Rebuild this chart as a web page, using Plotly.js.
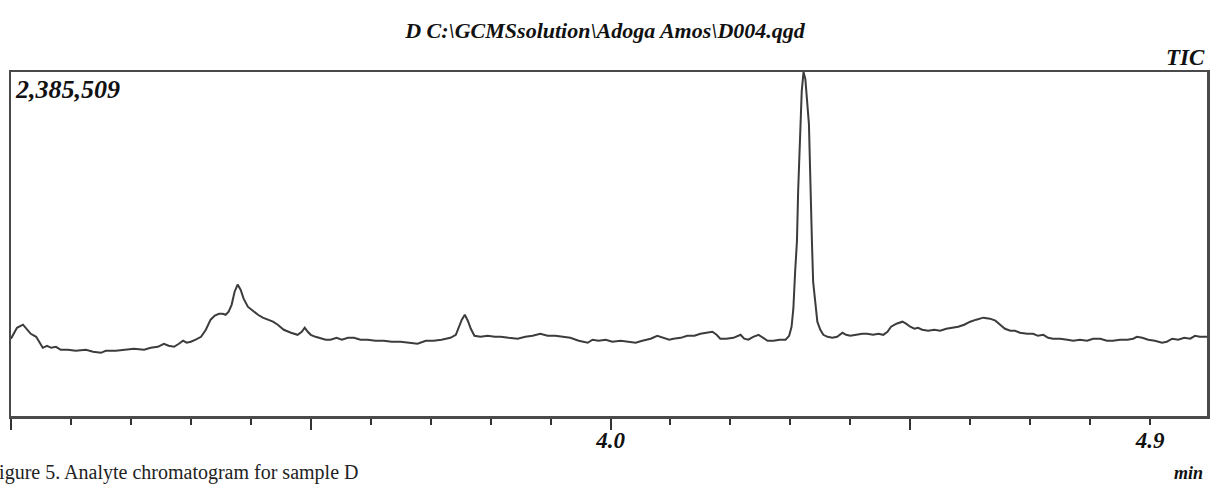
<!DOCTYPE html>
<html><head><meta charset="utf-8">
<script src="https://cdn.plot.ly/plotly-3.0.1.min.js"></script>
<style>html,body{margin:0;padding:0;background:#fff;}#chart{width:1210px;height:484px;}</style>
</head><body><div id="chart"></div>
<script>
const retentionTime = [3.000,3.010,3.020,3.027,3.033,3.042,3.045,3.053,3.060,3.067,3.075,3.083,3.095,3.108,3.125,3.137,3.150,3.158,3.175,3.192,
3.205,3.222,3.233,3.245,3.255,3.263,3.272,3.280,3.287,3.293,3.300,3.308,3.317,3.325,3.333,3.340,3.347,3.353,3.358,3.363,
3.368,3.373,3.378,3.383,3.388,3.395,3.403,3.412,3.420,3.428,3.437,3.445,3.455,3.467,3.478,3.485,3.490,3.495,3.500,3.508,
3.517,3.525,3.533,3.543,3.552,3.562,3.572,3.583,3.595,3.608,3.622,3.635,3.650,3.663,3.678,3.692,3.705,3.718,3.733,3.742,
3.747,3.752,3.757,3.762,3.767,3.773,3.783,3.795,3.807,3.817,3.830,3.845,3.858,3.870,3.883,3.895,3.908,3.920,3.933,3.947,
3.957,3.962,3.970,3.980,3.992,4.003,4.017,4.028,4.042,4.053,4.067,4.078,4.088,4.098,4.105,4.117,4.128,4.140,4.150,4.160,
4.170,4.177,4.183,4.193,4.205,4.217,4.223,4.230,4.238,4.247,4.255,4.262,4.272,4.282,4.292,4.298,4.302,4.305,4.308,4.311,
4.313,4.317,4.319,4.322,4.325,4.331,4.333,4.336,4.338,4.342,4.345,4.350,4.355,4.362,4.370,4.378,4.387,4.393,4.400,4.410,
4.420,4.428,4.438,4.447,4.455,4.462,4.468,4.477,4.487,4.493,4.500,4.507,4.513,4.520,4.530,4.540,4.550,4.560,4.570,4.580,
4.590,4.600,4.610,4.622,4.633,4.642,4.650,4.658,4.667,4.675,4.683,4.695,4.705,4.713,4.722,4.730,4.738,4.750,4.762,4.772,
4.783,4.795,4.805,4.817,4.828,4.838,4.850,4.862,4.872,4.878,4.887,4.897,4.908,4.920,4.928,4.937,4.947,4.957,4.967,4.975,
4.983,4.995];
const intensity = [536000,612000,633000,598000,570000,549000,529000,473000,487000,473000,480000,459000,459000,452000,459000,445000,438000,452000,452000,459000,
466000,459000,473000,480000,501000,487000,480000,501000,522000,508000,515000,529000,549000,598000,668000,696000,709000,709000,702000,723000,
771000,862000,911000,876000,814000,758000,730000,702000,682000,668000,654000,633000,598000,577000,563000,584000,612000,584000,563000,549000,
536000,529000,529000,542000,529000,542000,542000,529000,529000,522000,522000,515000,515000,508000,501000,522000,522000,529000,542000,563000,
612000,668000,702000,661000,605000,556000,549000,556000,549000,549000,542000,536000,549000,556000,570000,556000,556000,549000,542000,522000,
515000,508000,529000,522000,529000,515000,522000,515000,508000,522000,536000,556000,542000,529000,536000,542000,556000,556000,570000,577000,
584000,563000,536000,536000,542000,563000,536000,529000,549000,563000,542000,522000,522000,529000,529000,556000,619000,744000,1002000,1210000,
1558000,2024000,2253000,2385509,2337000,2024000,1627000,1210000,932000,744000,654000,598000,563000,549000,542000,549000,577000,563000,556000,563000,
570000,570000,563000,570000,563000,584000,619000,640000,654000,640000,619000,605000,612000,598000,591000,598000,591000,605000,612000,619000,
633000,654000,668000,682000,675000,661000,633000,605000,591000,591000,577000,570000,570000,556000,563000,542000,536000,536000,529000,522000,
529000,522000,536000,536000,522000,522000,529000,529000,536000,549000,542000,529000,522000,508000,515000,536000,529000,542000,536000,556000,
549000,549000];
const majorTickVals = [3.0, 3.5, 4.0, 4.5];
const labelTickVals = [4.0, 4.9];
const labelTickText = ['4.0', '4.9'];
const titleText = 'D C:\\GCMSsolution\\Adoga Amos\\D004.qgd';
const maxLabel = '2,385,509';
const traceLabel = 'TIC';
const unitLabel = 'min';
const captionText = 'Figure 5. Analyte chromatogram for sample D';

const serifBI = {family: '"Liberation Serif", "Times New Roman", serif', color: '#111', weight: 'bold', style: 'italic'};
const xRange = [3.0, 4.995];

const data = [{
  x: retentionTime, y: intensity, type: 'scatter', mode: 'lines',
  line: {color: '#3c3c3c', width: 2}, hoverinfo: 'skip', xaxis: 'x', yaxis: 'y'
}, {
  x: [4.0], y: [null], type: 'scatter', mode: 'lines', xaxis: 'x2', yaxis: 'y', showlegend: false, hoverinfo: 'skip'
}];

const layout = {
  width: 1210, height: 484,
  margin: {l: 11, r: 3, t: 72, b: 68},
  paper_bgcolor: '#fff', plot_bgcolor: '#fff',
  showlegend: false,
  title: {text: titleText, x: 0.5, xanchor: 'center', y: 0.938, yanchor: 'middle', yref: 'container',
          font: Object.assign({}, serifBI, {size: 22})},
  xaxis: {
    range: xRange, showgrid: false, zeroline: false,
    showline: true, mirror: true, linecolor: '#4a4a4a', linewidth: 2.5,
    tickmode: 'array', tickvals: majorTickVals, ticks: 'outside', ticklen: 11, tickwidth: 2, tickcolor: '#333',
    showticklabels: false,
    minor: {tick0: 3.0, dtick: 0.1, ticks: 'outside', ticklen: 6, tickwidth: 2, tickcolor: '#333', showgrid: false}
  },
  xaxis2: {
    overlaying: 'x', anchor: 'y', side: 'bottom', range: xRange,
    showgrid: false, zeroline: false, showline: false,
    tickmode: 'array', tickvals: labelTickVals, ticktext: labelTickText,
    ticks: 'outside', ticklen: 0, tickcolor: 'rgba(0,0,0,0)', ticklabelstandoff: 3,
    tickfont: Object.assign({}, serifBI, {size: 23})
  },
  yaxis: {
    range: [0, 2385509], showgrid: false, zeroline: false,
    showline: true, mirror: true, linecolor: '#4a4a4a', linewidth: 2.5,
    ticks: '', showticklabels: false
  },
  annotations: [
    {text: traceLabel, xref: 'paper', yref: 'paper', x: 1.0, y: 1.0407, xanchor: 'right', yanchor: 'middle',
     showarrow: false, font: Object.assign({}, serifBI, {size: 23})},
    {text: maxLabel, xref: 'paper', yref: 'paper', x: 0.0015, y: 0.95, xanchor: 'left', yanchor: 'middle',
     showarrow: false, font: Object.assign({}, serifBI, {size: 26})},
    {text: unitLabel, xref: 'paper', yref: 'paper', x: 0.998, y: -0.165, xanchor: 'right', yanchor: 'middle',
     showarrow: false, font: Object.assign({}, serifBI, {size: 18})},
    {text: captionText, xref: 'paper', yref: 'paper', x: -0.0205, y: -0.165, xanchor: 'left', yanchor: 'middle',
     showarrow: false, font: {family: '"Liberation Serif", "Times New Roman", serif', size: 20, color: '#222'}}
  ]
};

Plotly.newPlot('chart', data, layout, {staticPlot: true, displayModeBar: false});
</script>
</body></html>
